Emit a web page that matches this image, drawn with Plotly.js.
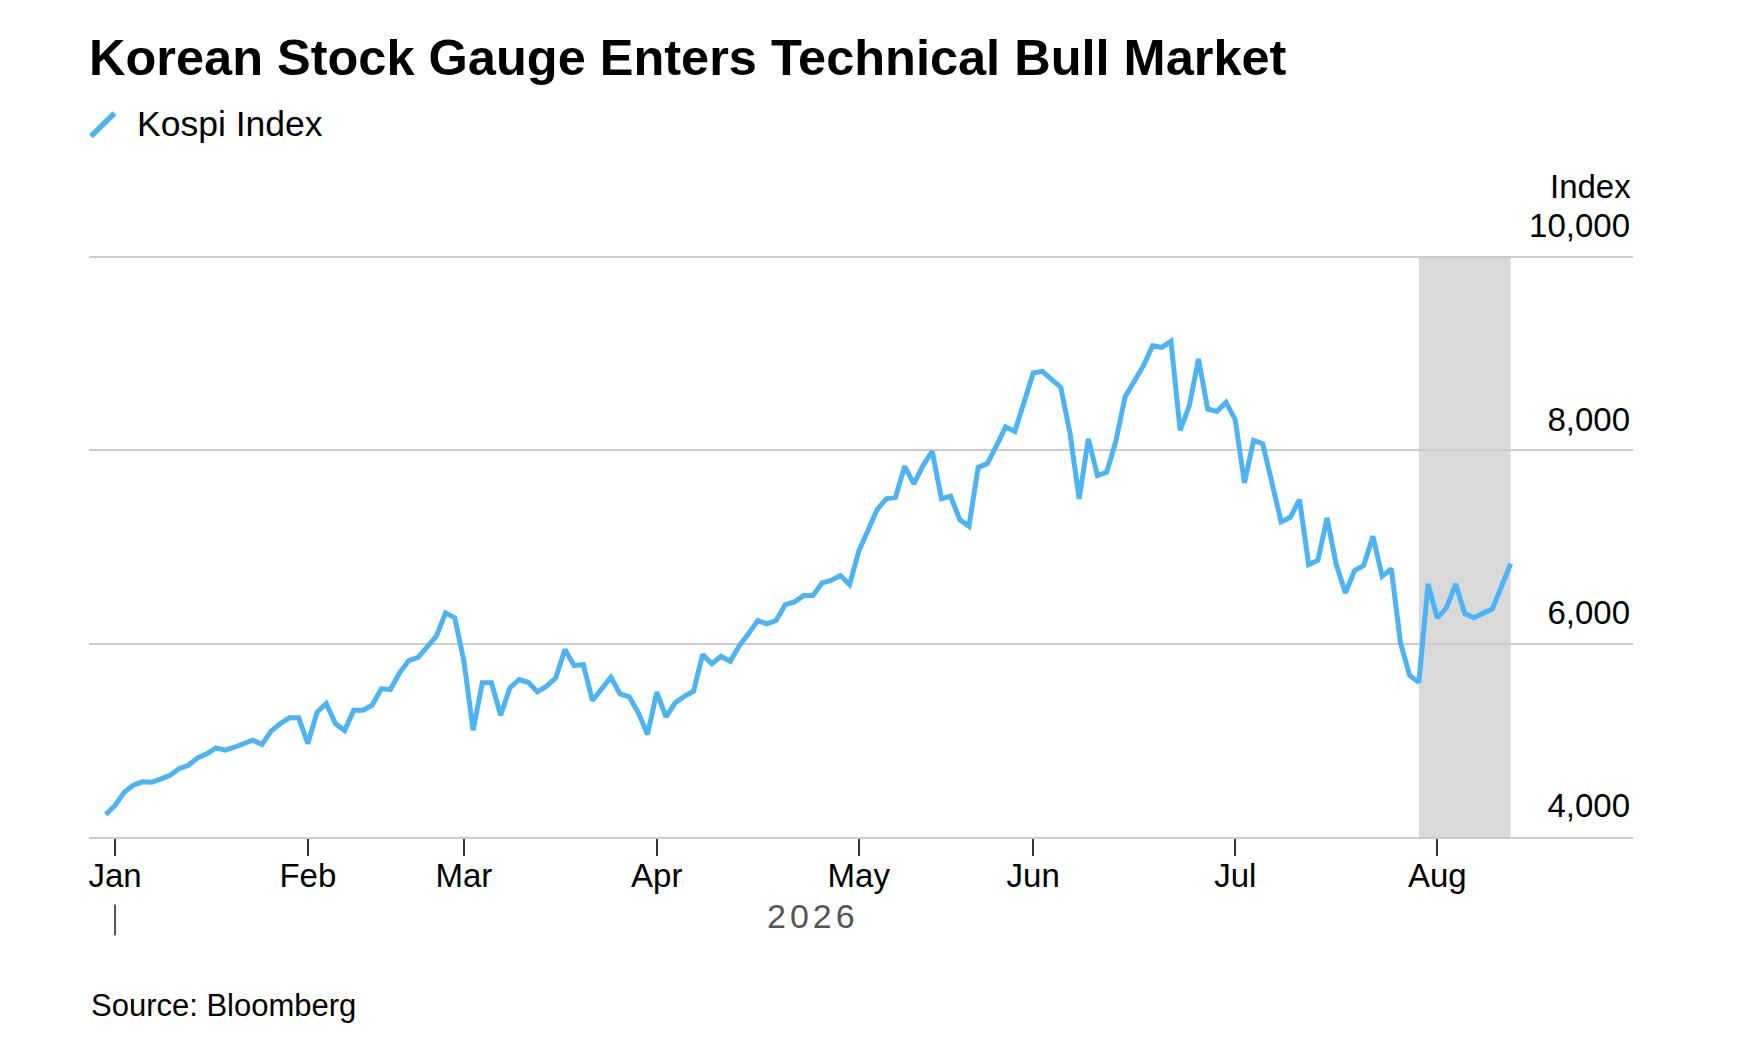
<!DOCTYPE html>
<html>
<head>
<meta charset="utf-8">
<script src="https://cdn.plot.ly/plotly-3.0.1.min.js"></script>
<style>
  html, body { margin: 0; padding: 0; background: #fff; }
  #chart { width: 1740px; height: 1049px; }
</style>
</head>
<body>
<div id="chart"></div>
<script>
// Kospi closes
const trade_dates = [
  '2025-12-30',
  '2026-01-02','2026-01-05','2026-01-06','2026-01-07','2026-01-08','2026-01-09',
  '2026-01-12','2026-01-13','2026-01-14','2026-01-15','2026-01-16',
  '2026-01-19','2026-01-20','2026-01-21','2026-01-22','2026-01-23',
  '2026-01-26','2026-01-27','2026-01-28','2026-01-29','2026-01-30',
  '2026-02-02','2026-02-03','2026-02-04','2026-02-05','2026-02-06',
  '2026-02-09','2026-02-10','2026-02-11','2026-02-12','2026-02-13',
  '2026-02-19','2026-02-20',
  '2026-02-23','2026-02-24','2026-02-25','2026-02-26','2026-02-27',
  '2026-03-03','2026-03-04','2026-03-05','2026-03-06',
  '2026-03-09','2026-03-10','2026-03-11','2026-03-12','2026-03-13',
  '2026-03-16','2026-03-17','2026-03-18','2026-03-19','2026-03-20',
  '2026-03-23','2026-03-24','2026-03-25','2026-03-26','2026-03-27',
  '2026-03-30','2026-03-31',
  '2026-04-01','2026-04-02','2026-04-03',
  '2026-04-06','2026-04-07','2026-04-08','2026-04-09','2026-04-10',
  '2026-04-13','2026-04-14','2026-04-15','2026-04-16','2026-04-17',
  '2026-04-20','2026-04-21','2026-04-22','2026-04-23','2026-04-24',
  '2026-04-27','2026-04-28','2026-04-29','2026-04-30',
  '2026-05-01',
  '2026-05-04','2026-05-06','2026-05-07','2026-05-08',
  '2026-05-11','2026-05-12','2026-05-13','2026-05-14','2026-05-15',
  '2026-05-18','2026-05-19','2026-05-20','2026-05-21','2026-05-22',
  '2026-05-26','2026-05-27','2026-05-28','2026-05-29',
  '2026-06-01','2026-06-02','2026-06-03','2026-06-04','2026-06-05',
  '2026-06-08','2026-06-09','2026-06-10','2026-06-11','2026-06-12',
  '2026-06-15','2026-06-16','2026-06-17','2026-06-18','2026-06-19',
  '2026-06-22','2026-06-23','2026-06-24','2026-06-25','2026-06-26',
  '2026-06-29','2026-06-30',
  '2026-07-01','2026-07-02','2026-07-03',
  '2026-07-06','2026-07-07','2026-07-08','2026-07-09','2026-07-10',
  '2026-07-13','2026-07-14','2026-07-15','2026-07-16',
  '2026-07-20','2026-07-21','2026-07-22','2026-07-23','2026-07-24',
  '2026-07-27','2026-07-28','2026-07-29','2026-07-30','2026-07-31',
  '2026-08-03','2026-08-04','2026-08-05','2026-08-06','2026-08-07',
  '2026-08-10','2026-08-11','2026-08-12','2026-08-13'
];

const kospi = [
  4232,
  4326, 4463, 4535, 4570, 4566, 4601,
  4639, 4708, 4742, 4818, 4860,
  4922, 4897, 4928, 4966, 5000,
  4956, 5094, 5173, 5232, 5232,
  4966, 5290, 5380, 5173, 5101,
  5311, 5311, 5362, 5532, 5525,
  5697, 5824,
  5858, 5966, 6076, 6317, 6266,
  5817, 5104, 5594, 5594,
  5259, 5542, 5628, 5600, 5501,
  5559, 5645, 5938, 5773, 5783,
  5411, 5542, 5652, 5480, 5449,
  5284, 5059,
  5497, 5242, 5387,
  5455, 5507, 5886, 5790, 5869,
  5817, 5979, 6103, 6238, 6204,
  6238, 6403, 6431, 6496, 6496,
  6627, 6654, 6703, 6610,
  6954,
  7171, 7385, 7496, 7512,
  7833, 7651, 7840, 7988, 7499,
  7523, 7282, 7212, 7822, 7860,
  8047, 8240, 8194, 8488,
  8798, 8815, 8729, 8649, 8178,
  7496, 8116, 7737, 7771, 8092,
  8550, 8722, 8873, 9080, 9063,
  9125, 8205, 8460, 8943, 8426,
  8401, 8494,
  8315, 7661, 8101,
  8064, 7677, 7258, 7305, 7488,
  6817, 6861, 7299, 6817,
  6524, 6755, 6809, 7109, 6696,
  6772, 6007, 5669, 5600, 6617,
  6266, 6369, 6617, 6310, 6266,
  6310, 6359, 6593, 6827
];

// market holidays (no trading)
const holidays = ['2025-12-25','2025-12-31','2026-01-01','2026-02-16','2026-02-17',
  '2026-02-18','2026-03-02','2026-05-05','2026-05-25','2026-07-17'];

const month_ticks = ['2026-01-02','2026-02-02','2026-03-03','2026-04-01',
  '2026-05-01','2026-06-01','2026-07-01','2026-08-03'];
const month_labels = ['Jan','Feb','Mar','Apr','May','Jun','Jul','Aug'];

const y_ticks = [4000, 6000, 8000, 10000];

// bull market stretch, from the low to the latest close
const bull_start = '2026-07-30';
const bull_end = '2026-08-13';

const LINE_BLUE = '#4cb4f4';
const FONT = 'Liberation Sans, Arial, sans-serif';

var trace = {
  x: trade_dates,
  y: kospi,
  type: 'scatter',
  mode: 'lines',
  name: 'Kospi Index',
  line: {color: LINE_BLUE, width: 5, shape: 'linear'},
  hoverinfo: 'x+y'
};

// the top of the y range is left a bit above 10,000 so its label stays inside
var layout = {
  width: 1740,
  height: 1049,
  paper_bgcolor: '#ffffff',
  plot_bgcolor: 'rgba(0,0,0,0)',
  margin: {l: 89, r: 107, t: 188.8, b: 211.5},
  showlegend: false,
  font: {family: FONT, color: '#000000', size: 33},
  title: {
    text: 'Korean Stock Gauge Enters Technical Bull Market',
    font: {family: FONT, size: 50.5, weight: 700, color: '#000000'},
    x: 89/1740, xanchor: 'left', xref: 'container',
    y: 1 - 57/1049, yanchor: 'middle', yref: 'container'
  },
  xaxis: {
    type: 'date',
    range: ['2025-12-26 04:00', '2026-09-01 07:40'],
    rangebreaks: [
      {bounds: ['sat', 'mon']},
      {values: holidays}
    ],
    tickmode: 'array',
    tickvals: month_ticks,
    ticktext: month_labels,
    ticks: 'outside',
    ticklen: 17,
    tickwidth: 2,
    tickcolor: '#333333',
    ticklabelstandoff: -9,
    tickfont: {family: FONT, size: 33, color: '#000000'},
    showgrid: false,
    zeroline: false,
    showline: true,
    linecolor: '#cccccc',
    linewidth: 2
  },
  yaxis: {
    range: [4000, 10700],
    side: 'right',
    tickmode: 'array',
    tickvals: y_ticks,
    tickformat: ',d',
    ticks: '',
    ticklabelposition: 'inside top',
    ticklabelshift: -8,
    tickfont: {family: FONT, size: 33, color: '#000000'},
    showgrid: true,
    gridcolor: '#cccccc',
    gridwidth: 2,
    zeroline: false,
    showline: false,
    fixedrange: true
  },
  shapes: [
    {
      type: 'rect', layer: 'below',
      xref: 'x', yref: 'y',
      x0: bull_start, x1: bull_end, y0: 4000, y1: 10000,
      fillcolor: '#d9d9d9', line: {width: 0}
    },
    // legend swatch, Bloomberg style slanted stroke
    {
      type: 'line', xref: 'paper', yref: 'paper',
      x0: 0.0013, y0: 1.0814, x1: 0.0165, y1: 1.1168,
      line: {color: LINE_BLUE, width: 5.5}
    },
    // year divider under Jan
    {
      type: 'line', xref: 'x', yref: 'paper',
      x0: month_ticks[0], x1: month_ticks[0], y0: -0.104, y1: -0.152,
      line: {color: '#555555', width: 2}
    }
  ],
  annotations: [
    {
      text: 'Kospi Index', xref: 'paper', yref: 'paper',
      x: 0.0296, y: 1.1, xanchor: 'left', yanchor: 'middle',
      showarrow: false, font: {family: FONT, size: 35.5, color: '#000000'}
    },
    {
      text: 'Index', xref: 'paper', yref: 'paper',
      x: 1, y: 1.0043, xanchor: 'right', yanchor: 'middle',
      showarrow: false, font: {family: FONT, size: 33, color: '#000000'}
    },
    {
      text: '<span style="letter-spacing:4px">2026</span>', xref: 'x', yref: 'paper',
      x: '2026-04-24', y: -0.1225, xanchor: 'center', yanchor: 'middle',
      showarrow: false, font: {family: FONT, size: 34, color: '#555555'}
    },
    {
      text: 'Source: Bloomberg', xref: 'paper', yref: 'paper',
      x: 0, y: -0.2597, xanchor: 'left', yanchor: 'middle',
      showarrow: false, font: {family: FONT, size: 31, color: '#000000'}
    }
  ]
};

Plotly.newPlot('chart', [trace], layout, {displayModeBar: false, responsive: false});
</script>
</body>
</html>
